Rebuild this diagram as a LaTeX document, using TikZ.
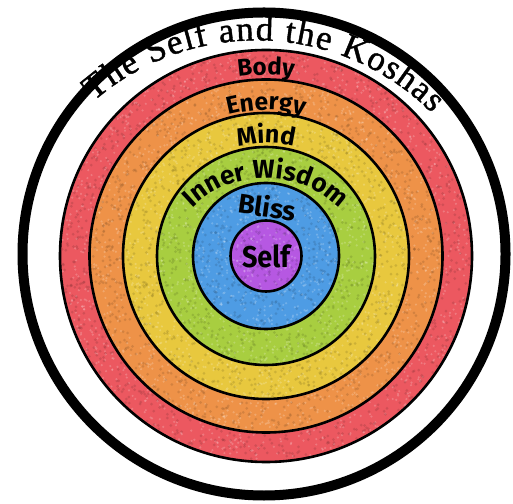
\documentclass[tikz,border=0pt]{standalone}
\usepackage{fontspec}
\setmainfont{Liberation Serif}
\newfontfamily\titlefont[FakeBold=1.2]{Liberation Serif}
\newfontfamily\labfont{Fira Sans}
\usetikzlibrary{decorations.text}
\definecolor{cred}{RGB}{236,88,96}
\definecolor{corange}{RGB}{238,146,72}
\definecolor{cyellow}{RGB}{232,200,62}
\definecolor{cgreen}{RGB}{168,206,64}
\definecolor{cblue}{RGB}{78,156,228}
\definecolor{cpurple}{RGB}{182,88,226}
\tikzset{
  ring/.style={draw=black,line width=2.6},
  darkdot/.style={fill=#1!65!black,opacity=0.32},
  litedot/.style={fill=white,opacity=0.2},
}
\newcommand{\myspeck}[4]{%
  \foreach \k in {1,...,#4}{%
    \pgfmathsetmacro{\aa}{360*rnd}%
    \pgfmathsetmacro{\rr}{100*sqrt((#1/100)^2+rnd*((#2/100)^2-(#1/100)^2))}%
    \fill[darkdot=#3] (C) ++(\aa:\rr) circle[radius=1.5];
    \pgfmathsetmacro{\aa}{360*rnd}%
    \pgfmathsetmacro{\rr}{100*sqrt((#1/100)^2+rnd*((#2/100)^2-(#1/100)^2))}%
    \fill[litedot] (C) ++(\aa:\rr) circle[radius=1.2];
  }}
\begin{document}
\begin{tikzpicture}[x=1pt,y=1pt]
\pgfmathsetseed{7}
\useasboundingbox (0,0) rectangle (513,503);
\fill[white] (0,0) rectangle (513,503);
\coordinate (C) at (266,247);
\coordinate (O) at (264,249);
\coordinate (T) at (256.5,214.6);
\coordinate (W) at (266,220);
\draw[line width=10] (O) circle[radius=241.5];
\filldraw[ring,fill=cred] (C) circle[radius=206];
\myspeck{179}{204}{cred}{600}
\filldraw[ring,fill=corange] (C) circle[radius=176.5];
\myspeck{146}{174}{corange}{600}
\filldraw[ring,fill=cyellow] (C) circle[radius=143];
\myspeck{112}{141}{cyellow}{500}
\filldraw[ring,fill=cgreen] (C) circle[radius=109];
\myspeck{76}{107}{cgreen}{400}
\filldraw[ring,fill=cblue] (C) circle[radius=73];
\myspeck{38}{71}{cblue}{280}
\filldraw[ring,fill=cpurple] (C) circle[radius=35.5];
\myspeck{1}{33}{cpurple}{90}
% title
\path[decorate,decoration={text along path,text align=fit to path,
  text={|\titlefont\fontsize{35}{35}\selectfont|The Self and the Koshas}}]
  (T) ++(131:248) arc[start angle=131,end angle=45,radius=248];
% ring labels
\path[decorate,decoration={text along path,text align=center,
  text={|\labfont\bfseries\fontsize{24}{24}\selectfont|Body}}]
  (C) ++(120:181) arc[start angle=120,end angle=60,radius=181];
\path[decorate,decoration={text along path,text align=center,
  text={|\labfont\bfseries\fontsize{24.5}{24.5}\selectfont|Energy}}]
  (C) ++(125:146) arc[start angle=125,end angle=55,radius=146];
\path[decorate,decoration={text along path,text align=center,
  text={|\labfont\bfseries\fontsize{25}{25}\selectfont|Mind}}]
  (C) ++(130:113) arc[start angle=130,end angle=50,radius=113];
\path[decorate,decoration={text along path,text align=center,
  text={|\labfont\bfseries\fontsize{26}{26}\selectfont|Inner Wisdom}}]
  (W) ++(145:105) arc[start angle=145,end angle=35,radius=105];
\node[font=\labfont\bfseries\fontsize{27}{27}\selectfont,anchor=base,rotate=-8] (bliss) at (266,286) {Bliss};
\node[font=\labfont\bfseries\fontsize{30}{30}\selectfont,anchor=base,xscale=0.9] (self) at (266,235) {Self};
\end{tikzpicture}
\end{document}
